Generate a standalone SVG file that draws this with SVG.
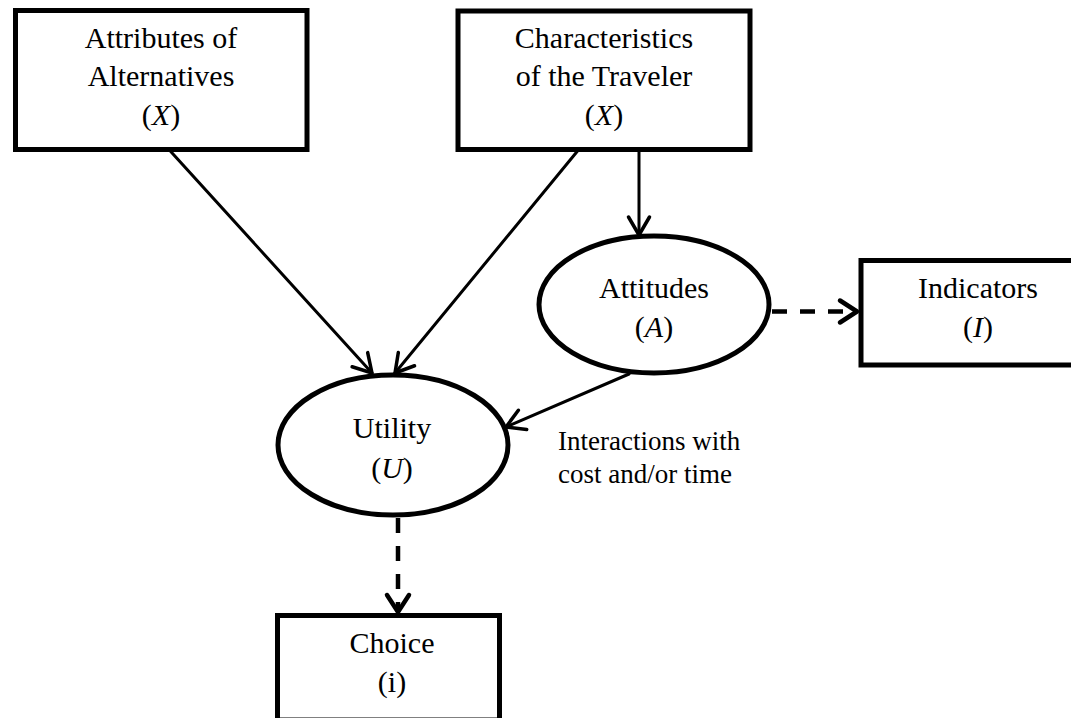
<svg xmlns="http://www.w3.org/2000/svg" width="1071" height="718" viewBox="0 0 1071 718">
  <style>
    .box { fill: #fff; stroke: #000; stroke-width: 5; }
    .oval { fill: #fff; stroke: #000; stroke-width: 5; }
    .t { font-family: "Liberation Serif", "Times New Roman", serif; font-size: 30px; fill: #000; text-anchor: middle; }
    .lbl { font-family: "Liberation Serif", "Times New Roman", serif; font-size: 27px; fill: #000; }
    .solid { fill: none; stroke: #000; stroke-width: 3; stroke-linecap: round; }
    .dash { fill: none; stroke: #000; stroke-width: 4.5; stroke-dasharray: 15 13; }
    i, .it { font-style: italic; }
  </style>
  <defs>
    <marker id="head" markerUnits="userSpaceOnUse" viewBox="-22 -14 26 28" refX="0" refY="0" markerWidth="26" markerHeight="28" orient="auto" overflow="visible">
      <path d="M -18 -10.5 L 0 0 L -18 10.5" fill="none" stroke="#000" stroke-width="3.5" stroke-linecap="round" stroke-linejoin="round"/>
    </marker>
    <marker id="headBold" markerUnits="userSpaceOnUse" viewBox="-22 -14 26 28" refX="0" refY="0" markerWidth="26" markerHeight="28" orient="auto" overflow="visible">
      <path d="M -17 -11 L 0 0 L -17 11" fill="none" stroke="#000" stroke-width="4.5" stroke-linecap="round" stroke-linejoin="round"/>
    </marker>
  </defs>

  <rect width="1071" height="718" fill="#fff"/>

  <!-- connectors -->
  <g id="connectors">
    <line class="solid" x1="163" y1="143" x2="372" y2="373" marker-end="url(#head)"/>
    <line class="solid" x1="580" y1="148" x2="395" y2="373" marker-end="url(#head)"/>
    <line class="solid" x1="639" y1="152" x2="639" y2="235" marker-end="url(#head)"/>
    <line class="solid" x1="629" y1="374" x2="506" y2="427" marker-end="url(#head)"/>
    <line class="dash" x1="772" y1="311.5" x2="857" y2="311.5" marker-end="url(#headBold)"/>
    <line class="dash" x1="398" y1="518" x2="398" y2="612" marker-end="url(#headBold)"/>
  </g>

  <!-- nodes -->
  <g id="attributes">
    <rect class="box" x="15.5" y="10.5" width="291.5" height="139"/>
    <text class="t" x="161" y="48">Attributes of</text>
    <text class="t" x="161" y="86">Alternatives</text>
    <text class="t" x="161" y="125">(<tspan class="it">X</tspan>)</text>
  </g>

  <g id="traveler">
    <rect class="box" x="458" y="11" width="292" height="138.5"/>
    <text class="t" x="604" y="48">Characteristics</text>
    <text class="t" x="604" y="86">of the Traveler</text>
    <text class="t" x="604" y="125">(<tspan class="it">X</tspan>)</text>
  </g>

  <g id="attitudes">
    <ellipse class="oval" cx="654" cy="304.5" rx="115" ry="68.5"/>
    <text class="t" x="654" y="298">Attitudes</text>
    <text class="t" x="654" y="337">(<tspan class="it">A</tspan>)</text>
  </g>

  <g id="indicators">
    <rect class="box" x="861" y="260.5" width="234" height="104.5"/>
    <text class="t" x="978" y="298">Indicators</text>
    <text class="t" x="978" y="337">(<tspan class="it">I</tspan>)</text>
  </g>

  <g id="utility">
    <ellipse class="oval" cx="393" cy="445" rx="115" ry="70"/>
    <text class="t" x="392" y="438">Utility</text>
    <text class="t" x="392" y="478">(<tspan class="it">U</tspan>)</text>
  </g>

  <g id="choice">
    <rect class="box" x="277.5" y="615.5" width="222" height="104.5"/>
    <text class="t" x="392" y="653">Choice</text>
    <text class="t" x="392" y="692">(i)</text>
  </g>

  <g id="interaction-label">
    <text class="lbl" x="558" y="450">Interactions with</text>
    <text class="lbl" x="558" y="483">cost and/or time</text>
  </g>
</svg>
